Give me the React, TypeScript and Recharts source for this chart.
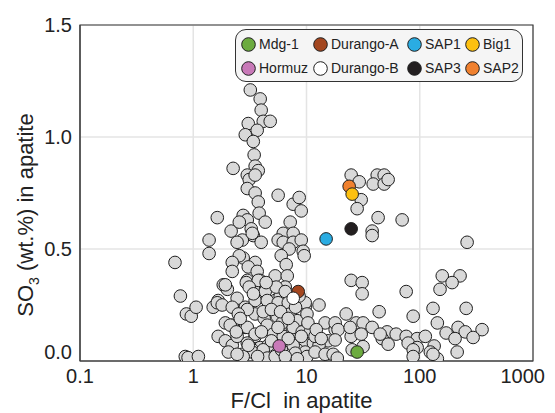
import React from 'react'
import {
  ScatterChart,
  Scatter,
  XAxis,
  YAxis,
  CartesianGrid,
  ReferenceArea,
  Legend,
} from 'recharts'

// F/Cl ratio vs SO3 (wt.%) for the compiled apatite analyses
const otherApatite: [number, number][] = [
  // high-SO3 group near F/Cl 2-5
  [3.19, 1.21], [3.9, 1.17], [3.98, 1.12], [4.15, 1.07], [4.78, 1.07],
  [3.06, 1.06], [3.67, 1.03], [2.88, 1.01], [3.39, 0.98], [3.45, 0.92],
  [2.25, 0.86], [3.52, 0.87], [3.75, 0.85], [3.0, 0.83], [3.12, 0.81],
  [3.52, 0.83], [3.0, 0.77], [3.52, 0.75], [3.75, 0.71], [5.62, 0.74],
  [3.82, 0.66], [7.63, 0.7], [8.62, 0.73], [1.63, 0.64], [2.76, 0.65],
  [3.0, 0.63], [4.32, 0.62], [3.25, 0.59], [3.39, 0.56], [2.71, 0.54],
  [3.98, 0.53], [8.98, 0.67], [7.18, 0.62], [6.23, 0.57], [7.63, 0.57],
  [5.62, 0.54], [6.23, 0.53], [7.63, 0.53], [8.98, 0.54], [7.03, 0.5],
  [9.35, 0.49], [9.54, 0.47], [5.98, 0.47], [6.62, 0.43], [2.76, 0.46],
  [3.52, 0.44], [2.16, 0.58], [2.55, 0.62], [3.32, 0.57], [2.44, 0.53],
  [1.38, 0.54], [1.38, 0.48], [0.69, 0.44],
  // main cluster
  [2.55, 0.47], [2.21, 0.44], [3.06, 0.42], [3.67, 0.4], [3.9, 0.36],
  [3.0, 0.36], [3.39, 0.33], [2.21, 0.4], [1.84, 0.34], [2.0, 0.32],
  [2.44, 0.28], [1.66, 0.27], [1.5, 0.24], [0.77, 0.29], [0.87, 0.21],
  [0.96, 0.2], [1.06, 0.24], [5.29, 0.38], [6.76, 0.38], [4.32, 0.28],
  [5.29, 0.27], [6.49, 0.33], [5.86, 0.29], [9.74, 0.24], [2.88, 0.24],
  [3.52, 0.21], [4.23, 0.19], [1.92, 0.17], [2.21, 0.16], [2.88, 0.15],
  [1.66, 0.11], [1.92, 0.09], [2.21, 0.07], [2.44, 0.11], [3.19, 0.08],
  [3.52, 0.11], [3.9, 0.06], [4.59, 0.07], [5.08, 0.13], [6.62, 0.16],
  [7.95, 0.18], [7.48, 0.13], [8.79, 0.14], [9.35, 0.08], [11.5, 0.08],
  [8.28, 0.05], [9.74, 0.04], [0.85, 0.02], [0.9, 0.015], [1.11, 0.02],
  [2.71, 0.03], [3.32, 0.05], [2.04, 0.04],
  [2.94, 0.35], [3.75, 0.36], [3.12, 0.33], [4.32, 0.31], [5.4, 0.33],
  [6.49, 0.31], [3.52, 0.27], [4.5, 0.27], [5.62, 0.26], [6.9, 0.26],
  [9.74, 0.26], [12.9, 0.25], [3.0, 0.23], [4.15, 0.22], [5.51, 0.2],
  [7.18, 0.21], [8.28, 0.18], [10.1, 0.21], [3.0, 0.15], [3.52, 0.12],
  [4.5, 0.16], [6.1, 0.17], [7.63, 0.15], [9.16, 0.13], [10.8, 0.13],
  [14.6, 0.17], [17.9, 0.14], [15.5, 0.09], [12.9, 0.07], [11.9, 0.11],
  [5.08, 0.12], [6.23, 0.11], [7.63, 0.07], [3.0, 0.08], [3.32, 0.04],
  [4.15, 0.05], [4.5, 0.013], [5.29, 0.02], [7.95, 0.035], [10.1, 0.02],
  [11.9, 0.04], [14.6, 0.03], [17.2, 0.03], [18.7, 0.013],
  [1.92, 0.34], [1.63, 0.26], [1.8, 0.25], [2.21, 0.24], [2.12, 0.16],
  [2.5, 0.21], [2.76, 0.02], [3.06, 0.07], [2.44, 0.03],
  [4.9, 0.23], [5.9, 0.22], [6.9, 0.19], [4.0, 0.13], [4.9, 0.09],
  [6.0, 0.05], [6.9, 0.1], [8.0, 0.24], [8.6, 0.29], [10.3, 0.17],
  [5.6, 0.15], [4.4, 0.35], [3.4, 0.3], [2.6, 0.19], [2.4, 0.13],
  [6.5, 0.02], [8.3, 0.01], [3.7, 0.02], [9.0, 0.11], [12.2, 0.14],
  [13.5, 0.1],
  // F/Cl above ~15
  [24.8, 0.83], [29.2, 0.8], [30.4, 0.72], [28.0, 0.68], [42.1, 0.83],
  [48.5, 0.83], [38.8, 0.79], [48.5, 0.79], [52.6, 0.81], [42.9, 0.64],
  [69.9, 0.63], [38.0, 0.58], [38.0, 0.56], [262, 0.53],
  [24.8, 0.36], [31.0, 0.35], [31.0, 0.3], [75.9, 0.31], [158, 0.38],
  [227, 0.38], [193, 0.35], [151, 0.32], [43.8, 0.22], [87.5, 0.2],
  [131, 0.235], [257, 0.235], [143, 0.17], [22.4, 0.21], [355, 0.14],
  [171, 0.125], [218, 0.15], [252, 0.13], [296, 0.105], [205, 0.1],
  [214, 0.04], [17.9, 0.17], [27.5, 0.17], [31.6, 0.17], [38.0, 0.15],
  [51.5, 0.13], [61.9, 0.12], [75.9, 0.11], [94.9, 0.1], [112, 0.11],
  [19.0, 0.14], [24.8, 0.11], [30.4, 0.12], [46.6, 0.1], [52.6, 0.075],
  [79.0, 0.08], [94.9, 0.06], [134, 0.067], [17.9, 0.094], [31.6, 0.064],
  [25.3, 0.05], [87.5, 0.05], [124, 0.04], [143, 0.01], [87.5, 0.02],
  [131, 0.03], [24.3, 0.15], [44.7, 0.12],
]

// named reference samples: [F/Cl, SO3]
const sampleNames = ['Mdg-1', 'Durango-A', 'SAP1', 'Big1', 'Hormuz', 'Durango-B', 'SAP3', 'SAP2']
const sampleValues: Record<string, [number, number]> = {
  'Mdg-1': [28.0, 0.04],
  'Durango-A': [8.45, 0.31],
  SAP1: [14.9, 0.545],
  Big1: [25.3, 0.745],
  Hormuz: [5.74, 0.067],
  'Durango-B': [7.63, 0.28],
  SAP3: [24.8, 0.59],
  SAP2: [23.8, 0.78],
}
// drawing order so Big1 sits over SAP2 and Durango-B over Durango-A
const drawOrder = ['Durango-A', 'Durango-B', 'SAP2', 'Big1', 'SAP1', 'SAP3', 'Hormuz', 'Mdg-1']

const xTicks = [0.1, 1, 10, 100, 1000]
const yTicks = [0, 0.5, 1.0, 1.5]

const sampleColors: Record<string, string> = {
  'Mdg-1': '#6cab3f',
  'Durango-A': '#a3461f',
  SAP1: '#2aace2',
  Big1: '#fdc010',
  Hormuz: '#c879b8',
  'Durango-B': '#ffffff',
  SAP3: '#231f20',
  SAP2: '#f0812f',
}

const FONT = '"Liberation Sans", Arial, Helvetica, sans-serif'
const INK = '#222'

const dot = (fill: string) => (props: any) => (
  <circle cx={props.cx} cy={props.cy} r={6.3} fill={fill} stroke="#1e1e1e" strokeWidth={1} />
)

function XTick({ x, y, payload }: any) {
  // the last label is right-aligned so it stays inside the svg
  const last = payload.value === 1000
  return (
    <text
      x={last ? x + 14 : x}
      y={y}
      dy="0.72em"
      textAnchor={last ? 'end' : 'middle'}
      fontSize={20}
      fill={INK}
      fontFamily={FONT}
    >
      {String(payload.value)}
    </text>
  )
}

function YTick({ x, y, payload }: any) {
  // the 0.0 label sits a little above the baseline
  const lift = payload.value === 0 ? -9 : 0
  return (
    <text x={x} y={y + lift} dy="0.36em" textAnchor="end" fontSize={20} fill={INK} fontFamily={FONT}>
      {payload.value.toFixed(1)}
    </text>
  )
}

function XTitle({ viewBox }: any) {
  const cx = viewBox.x + viewBox.width / 2 - 5
  return (
    <text x={cx} y={viewBox.y + 47} textAnchor="middle" fontSize={22} fill={INK} fontFamily={FONT} style={{ whiteSpace: 'pre' }}>
      {'F/Cl  in apatite'}
    </text>
  )
}

function YTitle() {
  const x = 25
  const y = 207
  return (
    <text x={x} y={y} transform={`rotate(-90, ${x}, ${y})`} textAnchor="middle" fontSize={22} fill={INK} fontFamily={FONT}>
      SO<tspan dy={6} fontSize={14}>3</tspan>
      <tspan dy={-6}> (wt.%) in apatite</tspan>
    </text>
  )
}

const legendCols = [6, 78, 172, 230]
const legendRows = [8, 32]

function SampleLegend() {
  return (
    <div
      style={{
        position: 'relative',
        width: 288,
        height: 53,
        boxSizing: 'border-box',
        border: '1px solid #333',
        borderRadius: 11,
        background: '#f5f5f5',
        fontFamily: FONT,
        fontSize: 14,
        color: INK,
      }}
    >
      {sampleNames.map((name, i) => (
        <div
          key={name}
          style={{
            position: 'absolute',
            left: legendCols[i % 4] - 1,
            top: legendRows[Math.floor(i / 4)] - 1,
            display: 'flex',
            alignItems: 'center',
            whiteSpace: 'nowrap',
            lineHeight: '15px',
          }}
        >
          <svg width={15} height={15} style={{ display: 'block' }}>
            <circle cx={7.5} cy={7.5} r={6.8} fill={sampleColors[name]} stroke="#1e1e1e" strokeWidth={1} />
          </svg>
          <span style={{ marginLeft: 3 }}>{name}</span>
        </div>
      ))}
    </div>
  )
}

export default function App() {
  const grey = otherApatite.map(([x, y]) => ({ x, y }))
  return (
    <ScatterChart width={539} height={405} margin={{ top: 17, right: 14, bottom: 0, left: 0 }}>
      <CartesianGrid stroke="#e4e4e4" strokeWidth={1.5} />
      <XAxis
        type="number"
        dataKey="x"
        scale="log"
        domain={[0.1, 1000]}
        ticks={xTicks}
        allowDataOverflow
        tickLine={false}
        axisLine={{ stroke: '#444', strokeWidth: 1.2 }}
        height={52}
        tick={<XTick />}
        label={<XTitle />}
      />
      <YAxis
        type="number"
        dataKey="y"
        domain={[0, 1.5]}
        ticks={yTicks}
        allowDataOverflow
        tickLine={false}
        axisLine={{ stroke: '#444', strokeWidth: 1.2 }}
        width={72}
        tick={<YTick />}
        label={<YTitle />}
      />
      <ReferenceArea x1={0.1} x2={1000} y1={0} y2={1.5} fill="none" stroke="#3a3a3a" strokeWidth={1.2} />
      <Scatter data={grey} legendType="none" shape={dot('#d9d9d9')} isAnimationActive={false} />
      {drawOrder.map((name) => (
        <Scatter
          key={name}
          name={name}
          data={[{ x: sampleValues[name][0], y: sampleValues[name][1] }]}
          shape={dot(sampleColors[name])}
          isAnimationActive={false}
        />
      ))}
      <Legend
        layout="horizontal"
        verticalAlign="middle"
        align="center"
        content={<SampleLegend />}
        wrapperStyle={{ left: 227, top: 21, width: 288, height: 53 }}
      />
    </ScatterChart>
  )
}
